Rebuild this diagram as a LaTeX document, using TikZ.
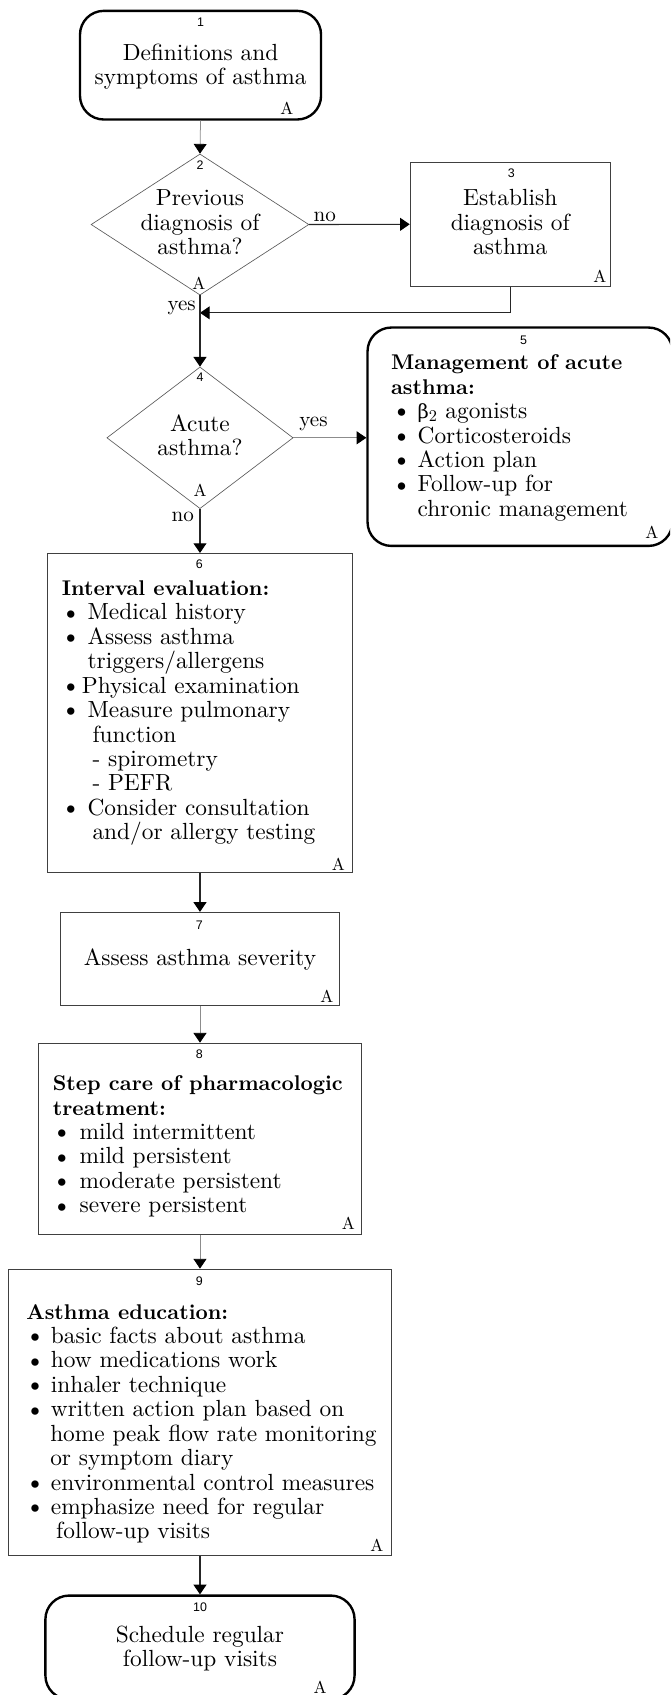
\documentclass[tikz,border=0pt]{standalone}
\usepackage{fontspec}
\setmainfont{lmroman10-regular.otf}[BoldFont=lmroman10-bold.otf, ItalicFont=lmroman10-italic.otf, BoldItalicFont=lmroman10-bolditalic.otf]
\newfontfamily\numfont{Liberation Sans}
\newfontfamily\grkfont{DejaVu Serif}
\usetikzlibrary{shapes.geometric,arrows.meta}
\newcommand\bul[2][0pt]{\makebox[#2][l]{\hspace*{#1}\raisebox{-0.3pt}{\scalebox{1.1}{\textbullet}}}}
\newcommand\ind[1]{\hspace*{#1}}
\newcommand\hd[1]{{\fontsize{19.7}{22.6}\selectfont\bfseries #1}}
\begin{document}
\begin{tikzpicture}[x=1pt,y=-1pt,
  rbox/.style={rectangle, draw=black, line width=2.2pt, rounded corners=22pt, inner sep=0pt},
  sbox/.style={rectangle, draw=black!75, line width=0.9pt, inner sep=0pt},
  dia/.style={diamond, draw=black!65, line width=0.6pt, inner sep=0pt},
  body/.style={inner sep=0pt, font=\fontsize{21.6}{22.6}\selectfont},
  num/.style={inner sep=0pt, font=\numfont\fontsize{11.5}{12}\selectfont},
  alab/.style={inner sep=0pt, font=\fontsize{16}{18}\selectfont},
  yn/.style={inner sep=0pt, font=\fontsize{19.5}{22}\selectfont},
  conn/.style={draw=black!85, line width=1pt, -{Triangle[length=9pt,width=12pt,color=black]}},
  connl/.style={draw=black!45, line width=0.7pt, -{Triangle[length=9pt,width=12pt,color=black]}},
]
\useasboundingbox (0,0) rectangle (620,1568);
\clip (0,0) rectangle (620,1568);

% shapes
\node[rbox, minimum width=223pt, minimum height=100.5pt] (n1) at (185.5,60.3) {};
\node[dia, minimum width=201.5pt, minimum height=130.5pt] (n2) at (185,207.7) {};
\node[sbox, minimum width=185pt, minimum height=115pt] (n3) at (472,207.5) {};
\node[dia, minimum width=172.3pt, minimum height=131pt] (n4) at (185,405) {};
\node[rbox, minimum width=282pt, minimum height=202pt] (n5) at (481,404) {};
\node[sbox, minimum width=282pt, minimum height=295pt] (n6) at (185,659.5) {};
\node[sbox, minimum width=259pt, minimum height=86pt] (n7) at (185,887) {};
\node[sbox, minimum width=298.6pt, minimum height=177pt] (n8) at (185,1053.5) {};
\node[sbox, minimum width=353.7pt, minimum height=265pt] (n9) at (185,1306.5) {};
\node[rbox, minimum width=286pt, minimum height=96pt] (n10) at (185,1524) {};
\coordinate (j) at (185,289.4);

% connectors
\draw[connl] (n1.south) -- (n2.north);
\draw[conn] (n2.east) -- (n3.west);
\draw[conn] (n3.south) |- (j);
\draw[conn] (n2.south) -- (n4.north);
\draw[connl] (n4.east) -- (n4.east -| n5.west);
\draw[conn] (n4.south) -- (n6.north);
\draw[conn] (n6.south) -- (n7.north);
\draw[connl] (n7.south) -- (n8.north);
\draw[connl] (n8.south) -- (n9.north);
\draw[conn] (n9.south) -- (n10.north);

% connector labels
\node[yn] (l23) at (300.5,200.5) {no};
\node[yn] (l24) at (168,285) {yes};
\node[yn] (l45) at (290,392.4) {yes};
\node[yn] (l46) at (169,478) {no};

% numbers
\node[num] (k1) at (185.5,21) {1};
\node[num] (k2) at (185,153) {2};
\node[num] (k3) at (473,160) {3};
\node[num] (k4) at (185,348.6) {4};
\node[num] (k5) at (484.3,314.6) {5};
\node[num] (k6) at (184.5,521.9) {6};
\node[num] (k7) at (184.5,856) {7};
\node[num] (k8) at (184.5,975.4) {8};
\node[num] (k9) at (184.5,1185.2) {9};
\node[num] (k10) at (185.1,1486.8) {10};

% A labels
\node[alab] (a1) at (265.3,100.3) {A};
\node[alab] (a2) at (184,262) {A};
\node[alab] (a3) at (555,256) {A};
\node[alab] (a4) at (185,454) {A};
\node[alab] (a5) at (603,492) {A};
\node[alab] (a6) at (313,799.6) {A};
\node[alab] (a7) at (302.3,921.7) {A};
\node[alab] (a8) at (322.3,1132) {A};
\node[alab] (a9) at (348.6,1429.8) {A};
\node[alab] (a10) at (296.1,1560.8) {A};

% texts
\node[body, align=center, anchor=north] (t1) at (185.5,39.7)
  {{\strut}Definitions and\\symptoms of asthma};
\node[body, align=center, anchor=north] (t2) at (185,174.2)
  {{\strut}Previous\\diagnosis of\\asthma?};
\node[body, align=center, anchor=north] (t3) at (472,174.2)
  {{\strut}Establish\\diagnosis of\\asthma};
\node[body, align=center, anchor=north] (t4) at (185,383.2)
  {{\strut}Acute\\asthma?};
\node[body, align=left, anchor=north west] (t5) at (361.5,326)
  {{\strut}\hd{Management of acute}\\
   \hd{asthma:}\\
   \bul[0.5pt]{24.7pt}{\grkfont\fontsize{18}{22.6}\selectfont β}\textsubscript{2} agonists\\
   \bul[0.5pt]{24.7pt}Corticosteroids\\
   \bul[0.5pt]{24.7pt}Action plan\\
   \bul[0.5pt]{24.7pt}Follow-up for\\
   \ind{24.7pt}chronic management};
\node[body, align=left, anchor=north west] (t6) at (57.1,534.8)
  {{\strut}\hd{Interval evaluation:}\\
   \bul[-1pt]{23.7pt}Medical history\\
   \bul[-1pt]{23.7pt}Assess asthma\\
   \ind{23.7pt}triggers/allergens\\
   \bul[-1pt]{18.5pt}Physical examination\\
   \bul[-1pt]{23.7pt}Measure pulmonary\\
   \ind{28.3pt}function\\
   \ind{28.3pt}- spirometry\\
   \ind{28.3pt}- PEFR\\
   \bul[-1pt]{23.7pt}Consider consultation\\
   \ind{28.3pt}and/or allergy testing};
\node[body, align=center, anchor=north] (t7) at (185,877.2)
  {{\strut}Assess asthma severity};
\node[body, align=left, anchor=north west] (t8) at (48.7,992.9)
  {{\strut}\hd{Step care of pharmacologic}\\
   \hd{treatment:}\\
   \bul[-1pt]{24.7pt}mild intermittent\\
   \bul[-1pt]{24.7pt}mild persistent\\
   \bul[-1pt]{24.7pt}moderate persistent\\
   \bul[-1pt]{24.7pt}severe persistent};
\node[body, align=left, anchor=north west] (t9) at (24.1,1204.2)
  {{\strut}\hd{Asthma education:}\\
   \bul[-1pt]{22.8pt}basic facts about asthma\\
   \bul[-1pt]{22.8pt}how medications work\\
   \bul[-1pt]{22.8pt}inhaler technique\\
   \bul[-1pt]{22.8pt}written action plan based on\\
   \ind{22.2pt}home peak flow rate monitoring\\
   \ind{22.2pt}or symptom diary\\
   \bul[-1pt]{22.8pt}environmental control measures\\
   \bul[-1pt]{22.8pt}emphasize need for regular\\
   \ind{27.7pt}follow-up visits};
\node[body, align=center, anchor=north] (t10) at (185,1503.4)
  {{\strut}Schedule regular\\follow-up visits};
\end{tikzpicture}
\end{document}
